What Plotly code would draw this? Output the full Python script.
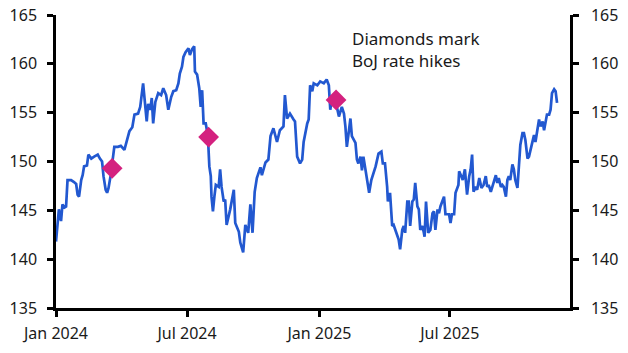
import plotly.graph_objects as go

dates = [
    "2024-01-01", "2024-01-05", "2024-01-08", "2024-01-10", "2024-01-13", "2024-01-15", "2024-01-17",
    "2024-01-22", "2024-01-26", "2024-01-29", "2024-01-31", "2024-02-02", "2024-02-05", "2024-02-07",
    "2024-02-09", "2024-02-13", "2024-02-15", "2024-02-19", "2024-02-23", "2024-02-28", "2024-03-02",
    "2024-03-05", "2024-03-07", "2024-03-10", "2024-03-12", "2024-03-14", "2024-03-17", "2024-03-20",
    "2024-03-22", "2024-03-27", "2024-03-31", "2024-04-05", "2024-04-07", "2024-04-12", "2024-04-16",
    "2024-04-19", "2024-04-24", "2024-04-27", "2024-05-01", "2024-05-04", "2024-05-06", "2024-05-08",
    "2024-05-11", "2024-05-13", "2024-05-15", "2024-05-18", "2024-05-22", "2024-05-26", "2024-05-29",
    "2024-06-02", "2024-06-05", "2024-06-09", "2024-06-12", "2024-06-16", "2024-06-19", "2024-06-21",
    "2024-06-24", "2024-06-26", "2024-06-29", "2024-07-03", "2024-07-05", "2024-07-08", "2024-07-11",
    "2024-07-12", "2024-07-15", "2024-07-18", "2024-07-20", "2024-07-22", "2024-07-24", "2024-07-27",
    "2024-07-30", "2024-08-01", "2024-08-03", "2024-08-04", "2024-08-06", "2024-08-08", "2024-08-10",
    "2024-08-14", "2024-08-16", "2024-08-18", "2024-08-21", "2024-08-23", "2024-08-25", "2024-08-30",
    "2024-09-04", "2024-09-06", "2024-09-11", "2024-09-13", "2024-09-17", "2024-09-20", "2024-09-24",
    "2024-09-27", "2024-09-30", "2024-10-03", "2024-10-06", "2024-10-11", "2024-10-13", "2024-10-18",
    "2024-10-22", "2024-10-25", "2024-10-29", "2024-11-03", "2024-11-07", "2024-11-12", "2024-11-14",
    "2024-11-17", "2024-11-21", "2024-11-26", "2024-11-28", "2024-12-01", "2024-12-05", "2024-12-08",
    "2024-12-10", "2024-12-15", "2024-12-17", "2024-12-19", "2024-12-22", "2024-12-24", "2024-12-29",
    "2025-01-02", "2025-01-07", "2025-01-11", "2025-01-14", "2025-01-16", "2025-01-18", "2025-01-23",
    "2025-01-25", "2025-01-28", "2025-02-01", "2025-02-04", "2025-02-06", "2025-02-08", "2025-02-11",
    "2025-02-13", "2025-02-15", "2025-02-20", "2025-02-22", "2025-02-24", "2025-02-27", "2025-03-01",
    "2025-03-03", "2025-03-06", "2025-03-08", "2025-03-11", "2025-03-14", "2025-03-17", "2025-03-20",
    "2025-03-24", "2025-03-28", "2025-03-30", "2025-04-02", "2025-04-05", "2025-04-06", "2025-04-09",
    "2025-04-10", "2025-04-12", "2025-04-14", "2025-04-16", "2025-04-19", "2025-04-21", "2025-04-23",
    "2025-04-26", "2025-04-28", "2025-04-30", "2025-05-03", "2025-05-05", "2025-05-07", "2025-05-10",
    "2025-05-12", "2025-05-14", "2025-05-17", "2025-05-19", "2025-05-21", "2025-05-24", "2025-05-26",
    "2025-05-27", "2025-05-29", "2025-06-01", "2025-06-04", "2025-06-07", "2025-06-09", "2025-06-11",
    "2025-06-14", "2025-06-16", "2025-06-18", "2025-06-23", "2025-06-25", "2025-06-30", "2025-07-02",
    "2025-07-04", "2025-07-07", "2025-07-09", "2025-07-13", "2025-07-14", "2025-07-17", "2025-07-19",
    "2025-07-22", "2025-07-25", "2025-07-28", "2025-07-30", "2025-08-01", "2025-08-03", "2025-08-06",
    "2025-08-08", "2025-08-11", "2025-08-14", "2025-08-17", "2025-08-20", "2025-08-22", "2025-08-24",
    "2025-08-27", "2025-08-30", "2025-09-03", "2025-09-05", "2025-09-07", "2025-09-10", "2025-09-12",
    "2025-09-14", "2025-09-17", "2025-09-19", "2025-09-21", "2025-09-23", "2025-09-26", "2025-09-28",
    "2025-09-30", "2025-10-03", "2025-10-05", "2025-10-07", "2025-10-10", "2025-10-12", "2025-10-14",
    "2025-10-17", "2025-10-19", "2025-10-21", "2025-10-24", "2025-10-26", "2025-10-28", "2025-10-31",
    "2025-11-02", "2025-11-04", "2025-11-07", "2025-11-09", "2025-11-11", "2025-11-13", "2025-11-16",
    "2025-11-18", "2025-11-20", "2025-11-23", "2025-11-25", "2025-11-27",
]

usdjpy = [
    141.8, 145.1, 143.9, 145.6, 145.3, 145.4, 148.1,
    148.1, 147.9, 147.7, 146.6, 146.4, 148.1, 148.6,
    149.5, 149.6, 150.7, 150.3, 150.5, 150.7, 150.3,
    150.0, 148.5, 147.1, 146.8, 147.3, 148.6, 150.3,
    151.5, 151.5, 151.6, 151.2, 151.8, 153.1, 153.5,
    154.8, 154.9, 155.6, 158.0, 156.0, 154.1, 155.9,
    155.3, 156.5, 153.9, 156.1, 157.0, 156.8, 157.5,
    156.8, 155.3, 156.6, 157.2, 157.3, 158.0, 159.0,
    159.7, 160.7, 161.2, 161.6, 160.9, 161.5, 161.8,
    159.2, 158.9, 157.5, 155.6, 157.3, 153.9, 153.9,
    152.6, 149.5, 148.5, 146.4, 144.9, 146.4, 147.6,
    147.4, 149.2, 147.4, 145.9, 146.1, 143.5, 145.1,
    147.1, 143.7, 142.8, 141.7, 140.7, 143.5, 142.7,
    145.6, 142.7, 146.9, 148.3, 149.4, 148.6, 149.9,
    150.2, 152.6, 153.4, 152.0, 153.2, 153.6, 156.8,
    154.4, 154.9, 154.3, 154.1, 150.5, 149.8, 150.2,
    152.0, 153.9, 154.3, 157.8, 157.2, 158.0, 157.8,
    158.2, 158.0, 158.4, 157.8, 155.3, 156.3, 156.3,
    155.6, 154.6, 155.6, 154.9, 153.6, 151.5, 153.2,
    154.4, 152.6, 151.9, 150.2, 149.8, 150.5, 149.1,
    150.5, 149.1, 148.1, 146.8, 148.1, 148.8, 149.5,
    150.8, 151.0, 149.8, 149.8, 147.4, 145.9, 146.8,
    145.4, 143.4, 143.5, 143.0, 142.3, 142.0, 141.0,
    143.0, 143.4, 142.7, 145.9, 145.9, 143.4, 145.9,
    146.1, 147.8, 145.4, 145.1, 143.0, 143.4, 142.7,
    142.3, 145.9, 142.7, 143.0, 144.7, 144.9, 143.0,
    145.1, 144.7, 145.4, 146.4, 144.6, 144.6, 143.7,
    144.6, 144.6, 146.8, 147.6, 149.0, 148.5, 148.1,
    149.2, 146.6, 148.5, 149.2, 150.7, 146.9, 147.4,
    147.1, 148.3, 147.3, 147.6, 148.5, 147.4, 147.6,
    146.9, 147.6, 148.6, 147.8, 148.3, 147.4, 147.6,
    147.4, 146.4, 148.1, 148.5, 148.1, 149.7, 149.2,
    148.1, 147.3, 149.2, 151.7, 152.9, 152.9, 152.2,
    150.3, 150.5, 151.2, 151.9, 152.7, 152.0, 153.2,
    154.3, 153.6, 154.1, 153.2, 153.9, 154.8, 154.8,
    155.3, 157.0, 157.4, 157.2, 156.0,
]

hike_dates = ["2024-03-19", "2024-07-31", "2025-01-24"]
hike_values = [149.3, 152.5, 156.3]

x_tick_vals = ["2024-01-01", "2024-07-01", "2025-01-01", "2025-07-01"]
x_tick_text = ["Jan 2024", "Jul 2024", "Jan 2025", "Jul 2025"]
y_ticks = [135, 140, 145, 150, 155, 160, 165]

FONT = "Noto Sans"
fig = go.Figure()
fig.add_trace(go.Scatter(
    x=dates, y=usdjpy, mode="lines",
    line=dict(color="#2258d0", width=2.7),
    hoverinfo="skip", showlegend=False,
))
fig.add_trace(go.Scatter(
    x=hike_dates, y=hike_values, mode="markers",
    marker=dict(symbol="diamond", size=16, color="#d4217f"),
    showlegend=False,
))
# invisible trace to activate the right-hand axis
fig.add_trace(go.Scatter(
    x=dates[:1], y=usdjpy[:1], mode="markers", yaxis="y2",
    marker=dict(opacity=0), hoverinfo="skip", showlegend=False,
))

axis_common = dict(
    showgrid=False, zeroline=False, showline=True, linecolor="black", linewidth=2.5,
    ticks="outside", ticklen=6, tickwidth=2.5, tickcolor="black", automargin=False,
    tickfont=dict(family=FONT, size=16, color="#1a1a1a"),
)

fig.update_layout(
    template="none",
    width=628, height=353,
    margin=dict(l=56, r=58, t=15, b=45, pad=0),
    paper_bgcolor="white", plot_bgcolor="white",
    xaxis=dict(
        range=["2024-01-01", "2025-12-15"],
        tickvals=x_tick_vals, ticktext=x_tick_text,
        ticklabelstandoff=3,
        **axis_common,
    ),
    yaxis=dict(
        range=[135, 165], tickvals=y_ticks, side="left",
        ticklabelstandoff=7,
        **axis_common,
    ),
    yaxis2=dict(
        range=[135, 165], tickvals=y_ticks, side="right", overlaying="y",
        ticklabelstandoff=9,
        **axis_common,
    ),
    annotations=[dict(
        x="2025-02-12", y=164.0, xref="x", yref="y",
        text="Diamonds mark<br>BoJ rate hikes", showarrow=False,
        xanchor="left", yanchor="top", align="left",
        font=dict(family=FONT, size=17, color="#1a1a1a"),
    )],
)

fig.write_html("out.html")
